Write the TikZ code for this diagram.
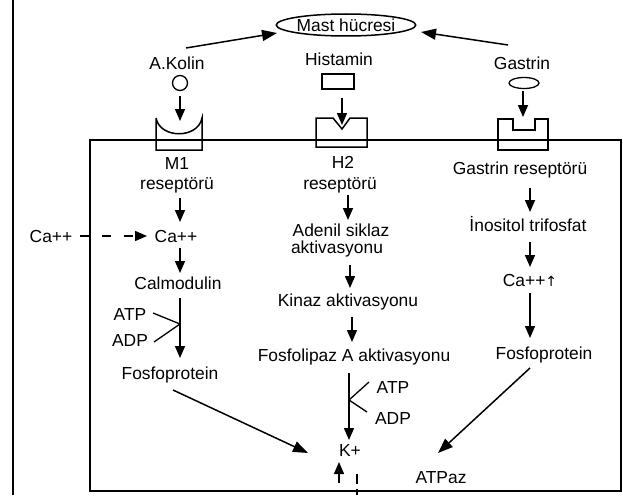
\documentclass[tikz,border=0pt]{standalone}
\usepackage{fontspec}
\setmainfont{Liberation Sans}
\newfontfamily\symfont{DejaVu Sans}
\usetikzlibrary{arrows.meta,shapes.geometric}
\begin{document}
\begin{tikzpicture}[x=1pt,y=-1pt,
  lbl/.style={font=\fontsize{17.4}{20}\selectfont, inner sep=0pt, anchor=base},
  arr/.style={line width=1.5pt, -{Triangle[length=12pt,width=10pt]}},
  bigarr/.style={line width=1.5pt, -{Triangle[length=15pt,width=11pt]}},
  thin/.style={line width=1.3pt},
  rec/.style={line width=1.5pt},
  boxline/.style={line width=2pt},
  dsh/.style={line width=1.5pt, dash pattern=on 9pt off 13pt}
]
\useasboundingbox (0,0) rectangle (623,495);
% frame lines
\draw[line width=2.6pt] (13,0) -- (13,495);
\draw[boxline] (90,140) rectangle (621,491);

% top
\node[ellipse, draw, line width=1.5pt, minimum width=130pt, minimum height=22pt, inner sep=0pt,
      font=\fontsize{17.4}{20}\selectfont] (mast) at (346,25) {Mast hücresi};
\node[lbl] (akolin) at (177,69) {A.Kolin};
\node[lbl] (histamin) at (339,66) {Histamin};
\node[lbl] (gastrin) at (522,69) {Gastrin};
\coordinate (akout) at (186,48);
\coordinate (akin) at (277,33);
\coordinate (gaout) at (508,45);
\coordinate (gain) at (421,32);
\draw[bigarr] (akout) -- (akin);
\draw[bigarr] (gaout) -- (gain);

% ligands
\node[circle, draw, line width=1.3pt, minimum size=15pt, inner sep=0pt] (c1) at (180,83) {};
\node[rectangle, draw, line width=1.3pt, minimum width=32pt, minimum height=15pt, inner sep=0pt] (r1) at (338,81.5) {};
\node[ellipse, draw, line width=1.3pt, minimum width=30pt, minimum height=11pt, inner sep=0pt] (e1) at (524,83) {};
\coordinate (m1tip) at (180,121);
\coordinate (h2tip) at (342,125);
\coordinate (grtip) at (523,117);
\draw[arr, shorten <=4.5pt] (c1.south) -- (m1tip);
\draw[arr, shorten <=8pt] (r1.south -| h2tip) -- (h2tip);
\draw[arr, shorten <=2pt] (e1.south -| grtip) -- (grtip);

% receptors
\draw[rec] (156,118) -- (156,150) -- (202,150) -- (202,118)
  .. controls (198,139) and (160,139) .. (156,118);
\draw[rec] (316,118) -- (333,118) -- (342,129) -- (350,118) -- (367,118) -- (367,147) -- (316,147) -- cycle;
\draw[rec] (498,119) -- (513,119) -- (513,130) -- (535,130) -- (535,119) -- (548,119) -- (548,150) -- (498,150) -- cycle;

% left column
\node[lbl] (m1) at (177,169) {M1};
\node[lbl] (m1r) at (177,189) {reseptörü};
\node[lbl] (ca1) at (176,242) {Ca++};
\node[lbl] (caL) at (51,242) {Ca++};
\node[lbl] (calm) at (178,289) {Calmodulin};
\node[lbl] (atp1) at (130,320) {ATP};
\node[lbl] (adp1) at (130,346) {ADP};
\node[lbl] (fos1) at (170,379) {Fosfoprotein};
\coordinate (l1a) at (180,198); \coordinate (l1b) at (180,222);
\coordinate (l2a) at (180,248); \coordinate (l2b) at (180,273);
\coordinate (l3a) at (180,298); \coordinate (l3b) at (180,358);
\coordinate (lj) at (180,324);
\coordinate (atp1e) at (153,313); \coordinate (adp1e) at (154,342);
\coordinate (dsa) at (80,236); \coordinate (dsb) at (147,236);
\coordinate (ld1) at (173,390); \coordinate (ld2) at (308,453);
\draw[arr] (l1a) -- (l1b);
\draw[arr] (l2a) -- (l2b);
\draw[arr] (l3a) -- (l3b);
\draw[thin] (atp1e) -- (lj) -- (adp1e);
\draw[dsh, -{Triangle[length=12pt,width=10pt]}] (dsa) -- (dsb);
\draw[bigarr] (ld1) -- (ld2);

% middle column
\node[lbl] (h2) at (343,168) {H2};
\node[lbl] (h2r) at (340,189) {reseptörü};
\node[lbl] (aden1) at (341,236) {Adenil siklaz};
\node[lbl] (aden2) at (337,253) {aktivasyonu};
\node[lbl] (kinaz) at (348,306) {Kinaz aktivasyonu};
\node[lbl] (fosA) at (354,361) {Fosfolipaz A aktivasyonu};
\node[lbl] (atp2) at (393,393) {ATP};
\node[lbl] (adp2) at (393,424) {ADP};
\node[lbl] (kplus) at (350,456) {K+};
\node[lbl] (atpaz) at (441,483) {ATPaz};
\coordinate (m1a) at (348,195); \coordinate (m1b) at (348,220);
\coordinate (m2a) at (350,265); \coordinate (m2b) at (350,288);
\coordinate (m3a) at (352,317); \coordinate (m3b) at (352,342);
\coordinate (m4a) at (349,373); \coordinate (m4b) at (349,440);
\coordinate (mj) at (349,400);
\coordinate (atp2e) at (369,382); \coordinate (adp2e) at (367,412);
\coordinate (upa) at (339,483); \coordinate (upb) at (339,462);
\coordinate (kda) at (357,474); \coordinate (kdb) at (357,495);
\draw[arr] (m1a) -- (m1b);
\draw[arr] (m2a) -- (m2b);
\draw[arr] (m3a) -- (m3b);
\draw[arr] (m4a) -- (m4b);
\draw[thin] (atp2e) -- (mj) -- (adp2e);
\draw[arr] (upa) -- (upb);
\draw[line width=1.5pt, dash pattern=on 10pt off 5pt] (kda) -- (kdb);

% right column
\node[lbl] (gr) at (520,174) {Gastrin reseptörü};
\node[lbl] (ino) at (528,231) {İnositol trifosfat};
\node[lbl] (ca3) at (530,286) {Ca++{\symfont\fontsize{14}{14}\selectfont ↑}};
\node[lbl] (fos3) at (544,359) {Fosfoprotein};
\coordinate (r1a) at (530,188); \coordinate (r1b) at (530,212);
\coordinate (r2a) at (530,242); \coordinate (r2b) at (530,267);
\coordinate (r3a) at (530,293); \coordinate (r3b) at (530,338);
\coordinate (rd1) at (530,368); \coordinate (rd2) at (438,453);
\draw[arr] (r1a) -- (r1b);
\draw[arr] (r2a) -- (r2b);
\draw[arr] (r3a) -- (r3b);
\draw[bigarr] (rd1) -- (rd2);
\end{tikzpicture}
\end{document}
